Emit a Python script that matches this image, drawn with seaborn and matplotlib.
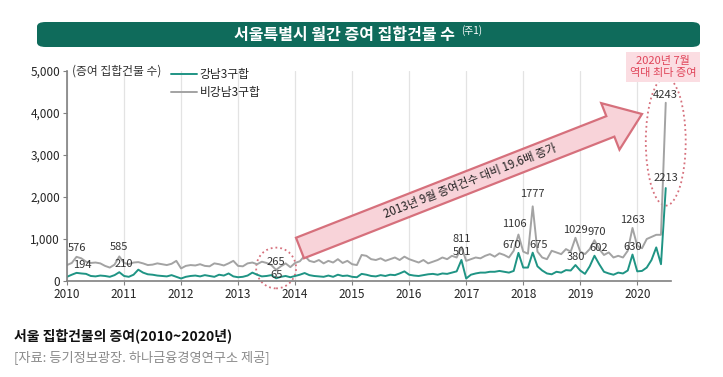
import numpy as np
import pandas as pd
import matplotlib.pyplot as plt
import matplotlib.patches as mpatches
from matplotlib.transforms import IdentityTransform
import seaborn as sns

# 월별 증여 집합건물 수 (2010.01 ~ 2020.07)
gangnam = [100, 150, 194, 180, 170, 120, 110, 130, 120, 100, 140, 210,
           120, 100, 150, 270, 200, 160, 150, 130, 120, 110, 140, 100,
           60, 100, 120, 130, 110, 140, 120, 100, 150, 130, 180, 110,
           90, 100, 130, 200, 150, 110, 120, 140, 65, 100, 120, 90,
           120, 150, 190, 140, 120, 110, 100, 130, 100, 150, 120, 130,
           100, 90, 170, 150, 120, 110, 140, 120, 150, 140, 180, 230,
           150, 130, 120, 140, 160, 170, 150, 180, 170, 200, 230, 501,
           60, 150, 180, 200, 200, 220, 220, 240, 220, 200, 240, 670,
           320, 320, 675, 350, 250, 180, 160, 220, 200, 260, 250, 380,
           250, 170, 350, 602, 400, 220, 180, 150, 200, 180, 250, 630,
           230, 240, 320, 500, 800, 400, 2213]
non_gangnam = [380, 430, 576, 540, 460, 430, 440, 420, 360, 320, 390, 585,
               430, 400, 440, 450, 420, 380, 390, 420, 400, 380, 410, 480,
               300, 360, 380, 370, 400, 360, 350, 420, 400, 370, 420, 480,
               360, 350, 420, 440, 400, 460, 430, 380, 265, 350, 420, 330,
               430, 470, 600, 480, 450, 500, 420, 480, 440, 520, 430, 480,
               400, 380, 620, 600, 520, 500, 540, 480, 520, 560, 500, 580,
               520, 480, 440, 500, 420, 460, 500, 560, 520, 600, 560, 811,
               480, 520, 560, 540, 600, 640, 580, 660, 620, 560, 720, 1106,
               700, 650, 1777, 700, 560, 520, 720, 680, 640, 760, 700, 1029,
               700, 640, 760, 970, 760, 620, 680, 560, 600, 560, 720, 1263,
               840, 780, 1000, 1050, 1100, 1100, 4243]
years = [2010, 2011, 2012, 2013, 2014, 2015, 2016, 2017, 2018, 2019, 2020]
series_names = ['강남3구합', '비강남3구합']

# 값 표시할 지점 (월 인덱스)
label_idx = [2, 11, 44, 83, 95, 98, 107, 111, 119, 126]

t = 2010 + np.arange(len(gangnam)) / 12
df = pd.DataFrame({
    't': np.concatenate([t, t]),
    'v': gangnam + non_gangnam,
    'series': [series_names[0]] * len(gangnam) + [series_names[1]] * len(non_gangnam),
})

sns.set_style('white')
plt.rcParams['font.family'] = ['Noto Sans CJK KR', 'DejaVu Sans']

teal = '#1f9484'
grey = '#a3a3a3'
pink_edge = '#d6707c'

fig = plt.figure(figsize=(7.23, 3.77), dpi=100)
ax = fig.add_axes([0.0927, 0.2546, 0.836, 0.5571])

sns.lineplot(data=df, x='t', y='v', hue='series', hue_order=series_names,
             palette=[teal, grey], linewidth=1.4, ax=ax)

ax.set_xlim(2010, 2020.6)
ax.set_ylim(0, 5000)
ax.set_xticks(years)
ax.set_xticklabels([str(y) for y in years], fontsize=8.5)
ax.set_yticks(range(0, 5001, 1000))
ax.set_yticklabels([f'{v:,}' for v in range(0, 5001, 1000)], fontsize=8.5)
ax.set_xlabel('')
ax.set_ylabel('')
ax.grid(axis='x', color='#e3e3e3', linewidth=0.9)
ax.set_axisbelow(True)
for s in ['top', 'right']:
    ax.spines[s].set_visible(False)
for s in ['left', 'bottom']:
    ax.spines[s].set_color('#808080')
    ax.spines[s].set_linewidth(1.2)
ax.tick_params(axis='y', left=True, length=3, color='#808080', pad=2)
ax.tick_params(axis='x', bottom=True, length=3, color='#808080', pad=2)

ax.legend(loc='upper left', bbox_to_anchor=(0.165, 1.035), frameon=False,
          fontsize=8.5, handlelength=2.2, handletextpad=0.2, labelspacing=0.4,
          borderaxespad=0)
ax.text(0.008, 1.0, '(증여 집합건물 수)', transform=ax.transAxes,
        fontsize=8.5, va='center', ha='left', color='#333333')

# 값 레이블
off_g = [(4, 2), (3, 2), (0, -1), (0, 2), (-5, 2), (4, 2), (0, 2), (3, 2), (0, 2), (0, 4)]
off_ng = [(0, 3), (0, 3), (0, 2), (0, 2), (-3, 4), (0, 5), (0, 2), (2, 2), (0, 2), (0, 2)]
for i, (dx, dy) in zip(label_idx, off_g):
    ax.annotate(str(gangnam[i]), (t[i], gangnam[i]), xytext=(dx, dy),
                textcoords='offset points', ha='center', va='bottom',
                fontsize=8, color='#333333')
for i, (dx, dy) in zip(label_idx, off_ng):
    ax.annotate(str(non_gangnam[i]), (t[i], non_gangnam[i]), xytext=(dx, dy),
                textcoords='offset points', ha='center', va='bottom',
                fontsize=8, color='#333333')

# 점선 원
ax.add_patch(mpatches.Ellipse((t[44], 310), 0.7, 970, fill=False, clip_on=False,
                              edgecolor=pink_edge, linestyle=':', linewidth=1.3))
ax.add_patch(mpatches.Ellipse((t[126], 3320), 0.7, 3050, fill=False, clip_on=False,
                              edgecolor=pink_edge, linestyle=':', linewidth=1.3))

# 큰 화살표 (픽셀 좌표)
H = 377
x0, y0, x1, y1 = 300, 248, 642, 114
arrow = mpatches.FancyArrow(x0, H - y0, x1 - x0, y0 - y1, width=22, head_width=50,
                            head_length=34, length_includes_head=True,
                            facecolor='#f8d3d9', edgecolor=pink_edge,
                            linewidth=1.6, transform=IdentityTransform())
fig.patches.append(arrow)
ang = np.degrees(np.arctan2(y0 - y1, x1 - x0))
tx = 470
ty = y0 - (tx - x0) * (y0 - y1) / (x1 - x0)
fig.text(tx / 723, 1 - ty / H, '2013년 9월 증여건수 대비 19.6배 증가',
         rotation=ang, rotation_mode='anchor', ha='center', va='center',
         fontsize=8.3, color='#222222')

# 2020년 7월 박스
fig.text(663 / 723, 1 - 67 / H, '2020년 7월\n역대 최다 증여', ha='center', va='center',
         fontsize=8, color='#e0455a', linespacing=1.25,
         bbox=dict(boxstyle='square,pad=0.35', facecolor='#fbdde2', edgecolor='none'))

# 제목 배너
banner = mpatches.FancyBboxPatch((37 / 723, 1 - 47 / H), 663 / 723, 25 / H,
                                 boxstyle='round,pad=0,rounding_size=0.012',
                                 transform=fig.transFigure, facecolor='#0f6b5b',
                                 edgecolor='none')
fig.patches.append(banner)
fig.text(345 / 723, 1 - 35 / H, '서울특별시 월간 증여 집합건물 수', ha='center', va='center',
         fontsize=11.5, color='white', fontweight='bold')
fig.text(461 / 723, 1 - 31 / H, '(주1)', ha='left', va='center',
         fontsize=7, color='white')

# 하단 설명
fig.text(14 / 723, 1 - 336 / H, '서울 집합건물의 증여(2010~2020년)', ha='left', va='center',
         fontsize=10, color='#111111', fontweight='bold')
fig.text(14 / 723, 1 - 357 / H, '[자료: 등기정보광장. 하나금융경영연구소 제공]', ha='left',
         va='center', fontsize=9.5, color='#8a8a8a')

fig.savefig('out.png', dpi=100)
